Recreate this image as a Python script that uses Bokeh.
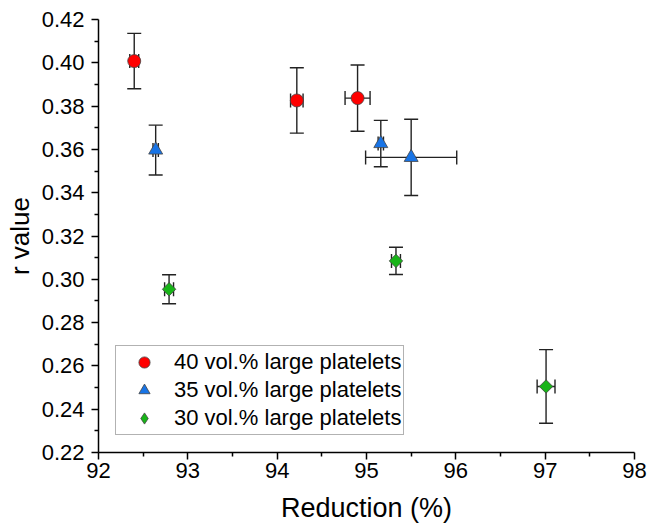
import numpy as np
from bokeh.plotting import figure
from bokeh.models import (ColumnDataSource, Whisker, TeeHead, Legend, LegendItem,
                          FixedTicker, NumeralTickFormatter, Range1d)
from bokeh.embed import file_html
from bokeh.resources import INLINE

# ---- data ----
labels = ["40 vol.% large platelets", "35 vol.% large platelets", "30 vol.% large platelets"]

red_x = [92.40, 94.22, 94.90]
red_y = [0.4008, 0.3826, 0.3837]
red_yerr = [0.0128, 0.0151, 0.0153]
red_xerr = [0.05, 0.07, 0.14]

blue_x = [92.64, 95.16, 95.50]
blue_y = [0.3597, 0.3627, 0.3563]
blue_yerr = [0.0115, 0.0107, 0.0176]
blue_xerr = [0.03, 0.03, 0.51]

green_x = [92.79, 95.33, 97.01]
green_y = [0.2954, 0.3085, 0.2505]
green_yerr = [0.0067, 0.0063, 0.0170]
green_xerr = [0.05, 0.05, 0.10]

x_ticks = [92, 93, 94, 95, 96, 97, 98]
x_minor = [92.5, 93.5, 94.5, 95.5, 96.5, 97.5]
y_ticks = [0.22, 0.24, 0.26, 0.28, 0.30, 0.32, 0.34, 0.36, 0.38, 0.40, 0.42]
y_minor = [0.23, 0.25, 0.27, 0.29, 0.31, 0.33, 0.35, 0.37, 0.39, 0.41]

FONT = "Liberation Sans"
ERR = "#222222"

p = figure(width=649, height=527, x_range=Range1d(92, 98), y_range=Range1d(0.22, 0.42),
           output_backend="svg", toolbar_location=None,
           min_border_left=98, min_border_right=15, min_border_top=19, min_border_bottom=75)
p.xgrid.visible = False
p.ygrid.visible = False
p.outline_line_color = None
p.background_fill_color = "white"
p.border_fill_color = "white"

for ax in (p.xaxis[0], p.yaxis[0]):
    ax.axis_line_color = "black"
    ax.axis_line_width = 1.5
    ax.major_tick_line_color = "black"
    ax.major_tick_line_width = 1.5
    ax.minor_tick_line_color = "black"
    ax.minor_tick_line_width = 1.5
    ax.major_tick_in = 0
    ax.major_tick_out = 7
    ax.minor_tick_in = 0
    ax.minor_tick_out = 4
    ax.major_label_text_font = FONT
    ax.major_label_text_font_size = "22px"
    ax.major_label_text_color = "black"
    ax.axis_label_text_font = FONT
    ax.axis_label_text_font_size = "26px"
    ax.axis_label_text_font_style = "normal"
    ax.axis_label_text_color = "black"

p.xaxis.axis_label_text_font_size = "27px"
p.xaxis.ticker = FixedTicker(ticks=x_ticks, minor_ticks=x_minor)
p.yaxis.ticker = FixedTicker(ticks=y_ticks, minor_ticks=y_minor)
p.xaxis.formatter = NumeralTickFormatter(format="0")
p.yaxis.formatter = NumeralTickFormatter(format="0.00")
p.xaxis.axis_label = "Reduction (%)"
p.yaxis.axis_label = "r value"
p.xaxis.major_label_standoff = 3
p.yaxis.major_label_standoff = 7
p.xaxis.axis_label_standoff = 12
p.yaxis.axis_label_standoff = 4

series = [
    (red_x, red_y, red_yerr, red_xerr, "circle", "circle", "#FF0000", 13, 0),
    (blue_x, blue_y, blue_yerr, blue_xerr, "triangle", "triangle", "#1874E6", 14, 0),
    (green_x, green_y, green_yerr, green_xerr, "square", "diamond", "#18B418", 9.5, np.pi / 4),
]

items = []
for (xs, ys, yerr, xerr, marker, leg_marker, color, size, angle), lab in zip(series, labels):
    xs = np.array(xs); ys = np.array(ys); yerr = np.array(yerr); xerr = np.array(xerr)
    src = ColumnDataSource(dict(x=xs, y=ys, y_lo=ys - yerr, y_hi=ys + yerr,
                                x_lo=xs - xerr, x_hi=xs + xerr))
    for base, lo, hi, dim in (("x", "y_lo", "y_hi", "height"), ("y", "x_lo", "x_hi", "width")):
        w = Whisker(base=base, lower=lo, upper=hi, source=src, dimension=dim,
                    line_color=ERR, line_width=1.4,
                    upper_head=TeeHead(size=14, line_color=ERR, line_width=1.4),
                    lower_head=TeeHead(size=14, line_color=ERR, line_width=1.4))
        p.add_layout(w)
    r = p.scatter("x", "y", source=src, marker=marker, size=size, angle=angle,
                  fill_color=color, line_color="#444444", line_width=0.8)
    if leg_marker != marker:
        # legend-only glyph (legend markers are never rotated)
        r = p.scatter(x=[np.nan], y=[np.nan], marker=leg_marker, size=size,
                      fill_color=color, line_color="#444444", line_width=0.8)
    items.append(LegendItem(label=lab, renderers=[r]))

legend = Legend(items=items, location=(17, 17), margin=0, padding=2, spacing=0,
                glyph_width=52, glyph_height=28, label_height=28, label_standoff=4,
                label_text_font=FONT, label_text_font_size="22px", label_text_color="black",
                border_line_color="#666666", border_line_width=1,
                background_fill_color="white", background_fill_alpha=1)
p.add_layout(legend)

open("out.html", "w").write(file_html(p, INLINE))
